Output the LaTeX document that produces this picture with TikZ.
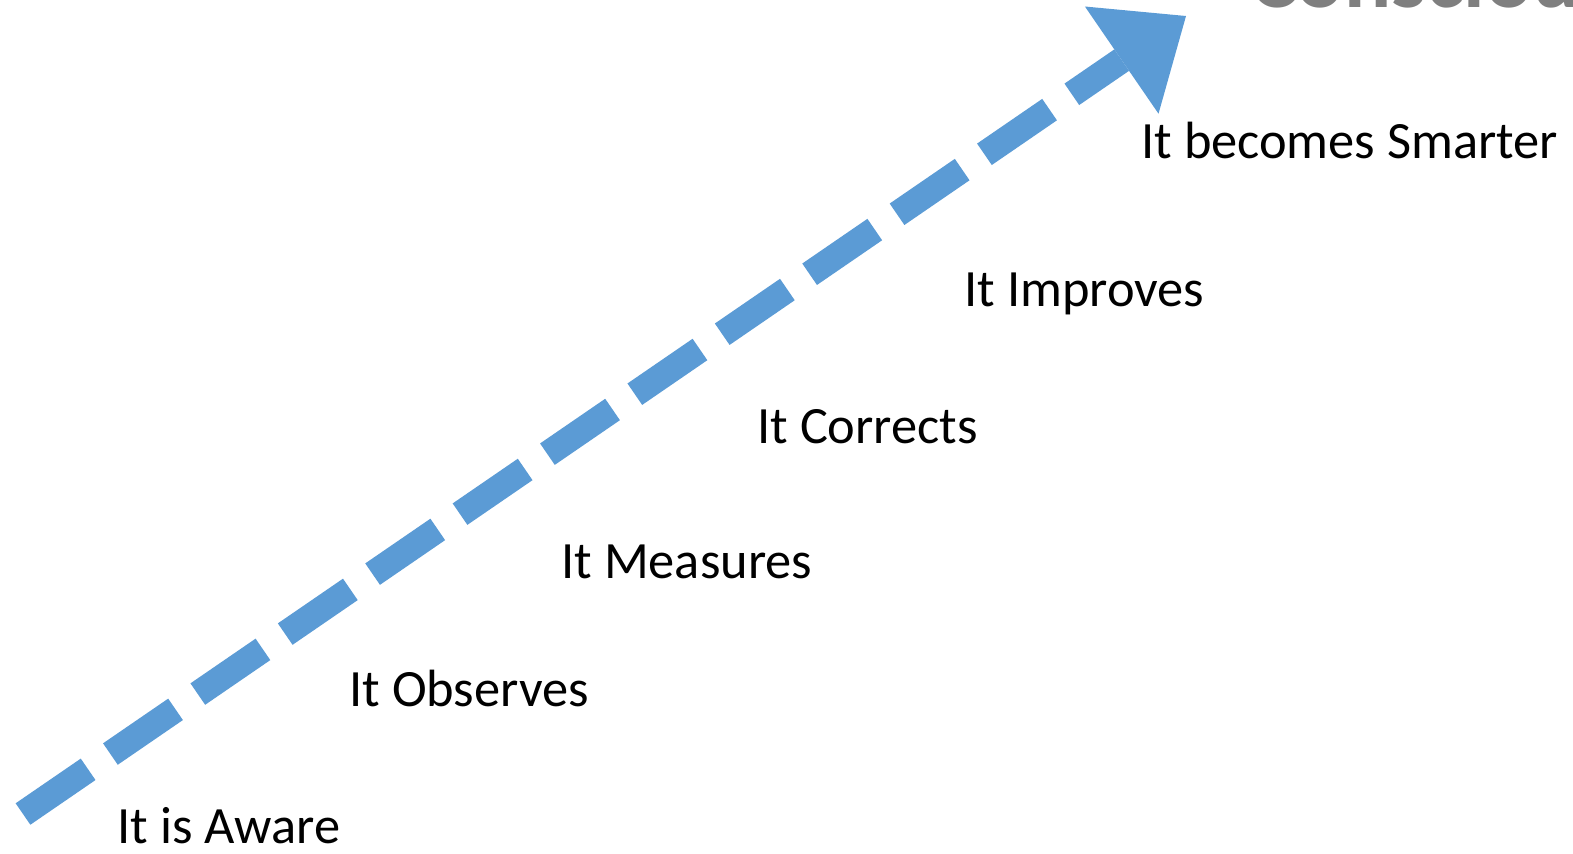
\documentclass[tikz,border=0pt]{standalone}
\usepackage{fontspec}
\setmainfont{Carlito}
\definecolor{arrowblue}{HTML}{5B9BD5}
\definecolor{titlegrey}{HTML}{7F7F7F}
\tikzset{
  steplabel/.style={anchor=base west, inner sep=0pt, font=\fontsize{26.2}{31}\selectfont, text=black},
  titlelabel/.style={anchor=base west, inner sep=0pt, font=\fontsize{44}{52}\selectfont\bfseries, text=titlegrey},
  shaft/.style={draw=arrowblue, line width=13pt, dash pattern=on 39.5pt off 13.5pt, line cap=butt},
}
\begin{document}
\begin{tikzpicture}[x=0.5pt,y=-0.5pt]
\useasboundingbox (0,0) rectangle (1573,853);
% arrow
\coordinate (start) at (23,814);
\coordinate (headback) at (1121.7,60.1);
\coordinate (tip) at (1186,16);
\coordinate (c1) at (1158.5,113.7);
\coordinate (c2) at (1084.9,6.5);
\draw[shaft] (start) -- (headback);
\fill[arrowblue] (tip) -- (c1) -- (c2) -- cycle;
% labels
\node[steplabel] (aware) at (117,843) {It is Aware};
\node[steplabel] (observes) at (349,706) {It Observes};
\node[steplabel] (measures) at (561,578) {It Measures};
\node[steplabel] (corrects) at (757,443) {It Corrects};
\node[steplabel] (improves) at (964,306) {It Improves};
\node[steplabel] (smarter) at (1141,158) {It becomes Smarter};
\node[titlelabel] (title) at (1250,7) {Consciousness};
\end{tikzpicture}
\end{document}
